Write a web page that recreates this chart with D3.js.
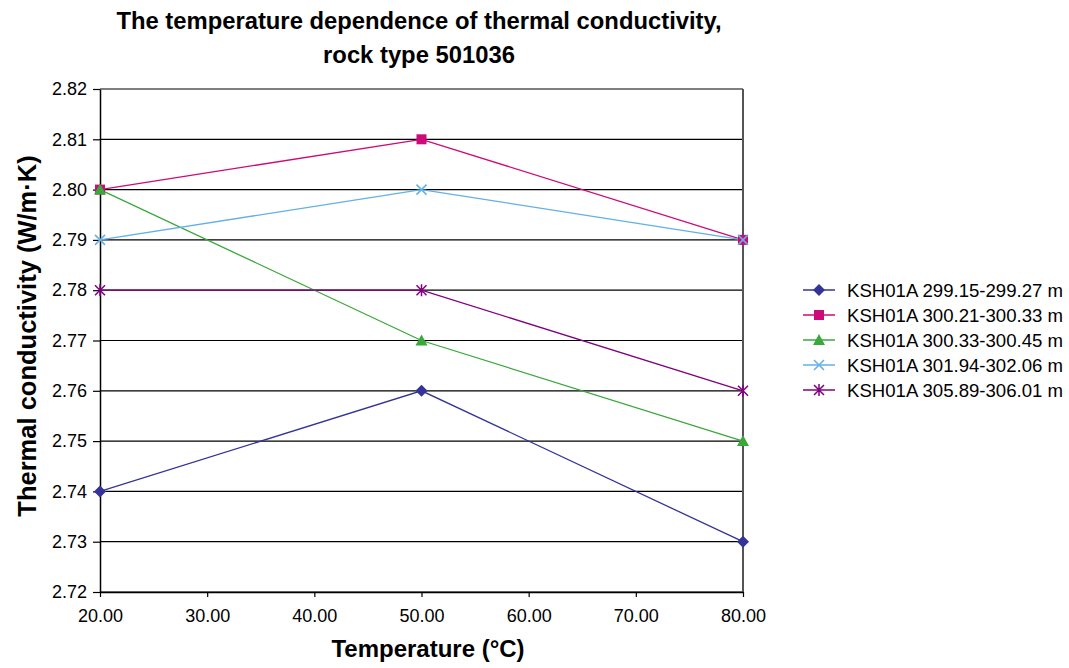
<!DOCTYPE html>
<html>
<head>
<meta charset="utf-8">
<script src="https://cdn.jsdelivr.net/npm/d3@7"></script>
<style>
  html, body { margin: 0; padding: 0; background: #fff; }
  svg { display: block; font-family: "Liberation Sans", Arial, Helvetica, sans-serif; }
</style>
</head>
<body>
<svg id="chart" width="1069" height="668"></svg>
<script>
// Measurement temperatures (°C)
const temperatures = [20, 50, 80];

// Sample names (borehole KSH01A, depth interval)
const seriesNames = [
  "KSH01A 299.15-299.27 m",
  "KSH01A 300.21-300.33 m",
  "KSH01A 300.33-300.45 m",
  "KSH01A 301.94-302.06 m",
  "KSH01A 305.89-306.01 m"
];

// Thermal conductivity (W/m·K) per sample at each temperature
const ksh299 = [2.74, 2.76, 2.73];
const ksh300a = [2.80, 2.81, 2.79];
const ksh300b = [2.80, 2.77, 2.75];
const ksh301 = [2.79, 2.80, 2.79];
const ksh305 = [2.78, 2.78, 2.76];

// Axis ticks
const xTicks = [20, 30, 40, 50, 60, 70, 80];
const yTicks = [2.72, 2.73, 2.74, 2.75, 2.76, 2.77, 2.78, 2.79, 2.80, 2.81, 2.82];

const seriesValues = [ksh299, ksh300a, ksh300b, ksh301, ksh305];
const colors = ["#333399", "#cc0a7a", "#3aa83a", "#62b0e6", "#800080"];
const markers = ["diamond", "square", "triangle", "cross", "star"];

const svg = d3.select("#chart");
const plot = { left: 100, right: 743, top: 89, bottom: 592 };

const x = d3.scaleLinear().domain([20, 80]).range([plot.left, plot.right]);
const y = d3.scaleLinear().domain([2.72, 2.82]).range([plot.bottom, plot.top]);

// Horizontal gridlines
svg.append("g")
  .selectAll("line")
  .data(yTicks)
  .join("line")
  .attr("x1", plot.left).attr("x2", plot.right)
  .attr("y1", d => y(d)).attr("y2", d => y(d))
  .attr("stroke", "#000").attr("stroke-width", 1.2);

// Right edge of the plot frame
svg.append("line")
  .attr("x1", plot.right).attr("x2", plot.right)
  .attr("y1", plot.top).attr("y2", plot.bottom)
  .attr("stroke", "#555").attr("stroke-width", 2);

// Axes
const yAxis = d3.axisLeft(y).tickValues(yTicks).tickFormat(d3.format(".2f"))
  .tickSizeInner(7).tickSizeOuter(0).tickPadding(6);
const xAxis = d3.axisBottom(x).tickValues(xTicks).tickFormat(d3.format(".2f"))
  .tickSizeInner(5).tickSizeOuter(0).tickPadding(12);

const gy = svg.append("g").attr("transform", `translate(${plot.left},0)`).call(yAxis);
const gx = svg.append("g").attr("transform", `translate(0,${plot.bottom})`).call(xAxis);

[gx, gy].forEach(g => {
  g.selectAll("path.domain").attr("stroke", "#000").attr("stroke-width", 1.5);
  g.selectAll(".tick line").attr("stroke", "#000").attr("stroke-width", 1.2);
  g.selectAll(".tick text")
    .attr("fill", "#000")
    .style("font-size", "18px")
    .style("font-family", "'Liberation Sans', Arial, sans-serif");
});

// Marker shapes
function drawMarker(g, type, cx, cy, color) {
  if (type === "diamond") {
    g.append("path")
      .attr("d", `M${cx},${cy - 6}L${cx + 6},${cy}L${cx},${cy + 6}L${cx - 6},${cy}Z`)
      .attr("fill", color);
  } else if (type === "square") {
    g.append("rect")
      .attr("x", cx - 5).attr("y", cy - 5).attr("width", 10).attr("height", 10)
      .attr("fill", color);
  } else if (type === "triangle") {
    g.append("path")
      .attr("d", `M${cx},${cy - 6}L${cx + 6},${cy + 5}L${cx - 6},${cy + 5}Z`)
      .attr("fill", color);
  } else if (type === "cross") {
    g.append("path")
      .attr("d", `M${cx - 5},${cy - 5}L${cx + 5},${cy + 5}M${cx - 5},${cy + 5}L${cx + 5},${cy - 5}`)
      .attr("stroke", color).attr("stroke-width", 1.5).attr("fill", "none");
  } else if (type === "star") {
    g.append("path")
      .attr("d", `M${cx - 5},${cy - 5}L${cx + 5},${cy + 5}M${cx - 5},${cy + 5}L${cx + 5},${cy - 5}M${cx},${cy - 6}L${cx},${cy + 6}`)
      .attr("stroke", color).attr("stroke-width", 1.5).attr("fill", "none");
  }
}

// Series lines and markers
const line = d3.line().x((d, i) => x(temperatures[i])).y(d => y(d));
const seriesG = svg.append("g");
seriesValues.forEach((vals, s) => {
  seriesG.append("path")
    .datum(vals)
    .attr("d", line)
    .attr("fill", "none")
    .attr("stroke", colors[s])
    .attr("stroke-width", 1.3);
});
seriesValues.forEach((vals, s) => {
  vals.forEach((v, i) => drawMarker(seriesG, markers[s], x(temperatures[i]), y(v), colors[s]));
});

// Legend
const legend = svg.append("g");
seriesNames.forEach((name, s) => {
  const ly = 290 + s * 25;
  legend.append("line")
    .attr("x1", 803).attr("x2", 835).attr("y1", ly).attr("y2", ly)
    .attr("stroke", colors[s]).attr("stroke-width", 1.5);
  drawMarker(legend, markers[s], 819, ly, colors[s]);
  legend.append("text")
    .attr("x", 847).attr("y", ly).attr("dy", "0.36em")
    .style("font-size", "18.6px")
    .text(name);
});

// Title
const title = svg.append("text")
  .attr("text-anchor", "middle")
  .style("font-weight", "bold")
  .style("font-size", "23.8px");
title.append("tspan").attr("x", 419).attr("y", 29).text("The temperature dependence of thermal conductivity,");
title.append("tspan").attr("x", 419).attr("y", 63).text("rock type 501036");

// Axis titles
svg.append("text")
  .attr("x", 428).attr("y", 657)
  .attr("text-anchor", "middle")
  .style("font-weight", "bold")
  .style("font-size", "24px")
  .text("Temperature (°C)");

svg.append("text")
  .attr("transform", `translate(36,336) rotate(-90)`)
  .attr("text-anchor", "middle")
  .style("font-weight", "bold")
  .style("font-size", "25.5px")
  .text("Thermal conductivity (W/m·K)");
</script>
</body>
</html>
